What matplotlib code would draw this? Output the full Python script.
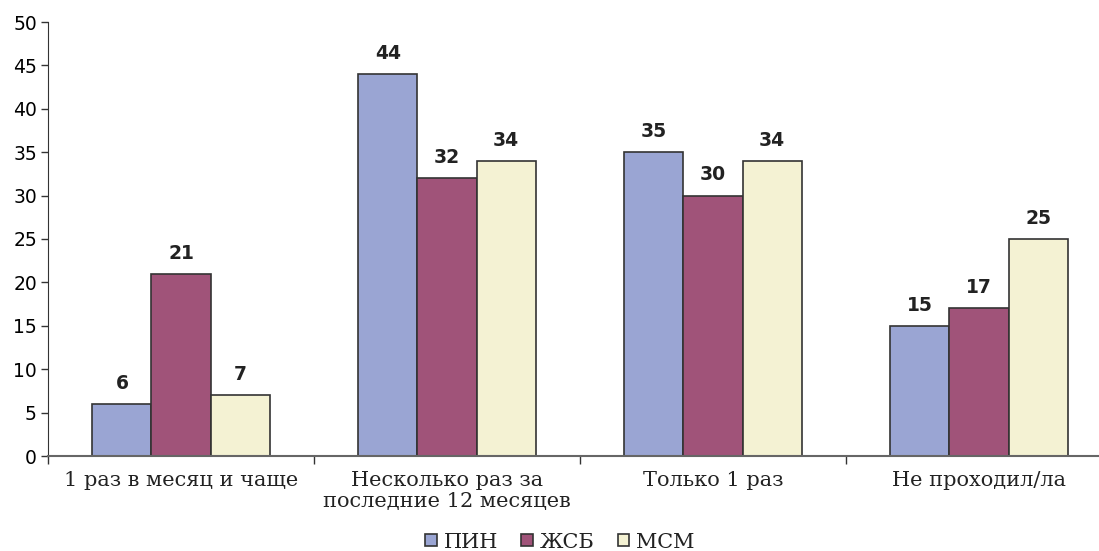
import numpy as np
import matplotlib.pyplot as plt

categories = ['1 раз в месяц и чаще', 'Несколько раз за\nпоследние 12 месяцев',
              'Только 1 раз', 'Не проходил/ла']
series = ['ПИН', 'ЖСБ', 'МСМ']
pin = [6, 44, 35, 15]
zhsb = [21, 32, 30, 17]
msm = [7, 34, 34, 25]
colors = ['#9aa5d3', '#a05379', '#f4f2d3']

fig = plt.figure(figsize=(10.99, 5.51), dpi=100)
ax = fig.add_axes([48 / 1099, 95 / 551, 1064 / 1099, 434 / 551])

x = np.arange(len(categories))
w = 0.222
for i, (vals, name, col) in enumerate(zip([pin, zhsb, msm], series, colors)):
    pos = x + (i - 1) * w
    ax.bar(pos, vals, w, color=col, edgecolor='#333333', linewidth=1.2, label=name)
    for p, v in zip(pos, vals):
        ax.annotate(str(v), (p, v), xytext=(0, 8), textcoords='offset points',
                    ha='center', va='bottom', fontsize=13.5, fontweight='bold',
                    color='#222222')

ax.set_xlim(-0.5, 3.5)
ax.set_ylim(0, 50)
ax.set_yticks(range(0, 51, 5))
ax.tick_params(axis='y', labelsize=13.5, length=5, width=1, color='#333333', pad=3)

# ticks sit on category boundaries, labels in between
ax.set_xticks(np.arange(len(categories) + 1) - 0.5)
ax.set_xticklabels([])
ax.set_xticks(x, minor=True)
ax.set_xticklabels(categories, minor=True, fontsize=15, family='DejaVu Serif',
                   linespacing=1.1, color='#222222')
ax.tick_params(axis='x', which='major', length=6, width=1, color='#333333')
ax.tick_params(axis='x', which='minor', length=0, pad=11)

for s in ['top', 'right']:
    ax.spines[s].set_visible(False)
ax.spines['left'].set_color('#333333')
ax.spines['bottom'].set_color('#666666')
ax.spines['bottom'].set_linewidth(1.5)

fig.legend(loc='lower center', bbox_to_anchor=(560 / 1099, -0.035), ncol=3,
           frameon=False, prop={'family': 'DejaVu Serif', 'size': 15},
           handlelength=0.55, handleheight=0.55, handletextpad=0.35,
           columnspacing=1.1, labelcolor='#222222')

fig.savefig('out.png', dpi=100)
